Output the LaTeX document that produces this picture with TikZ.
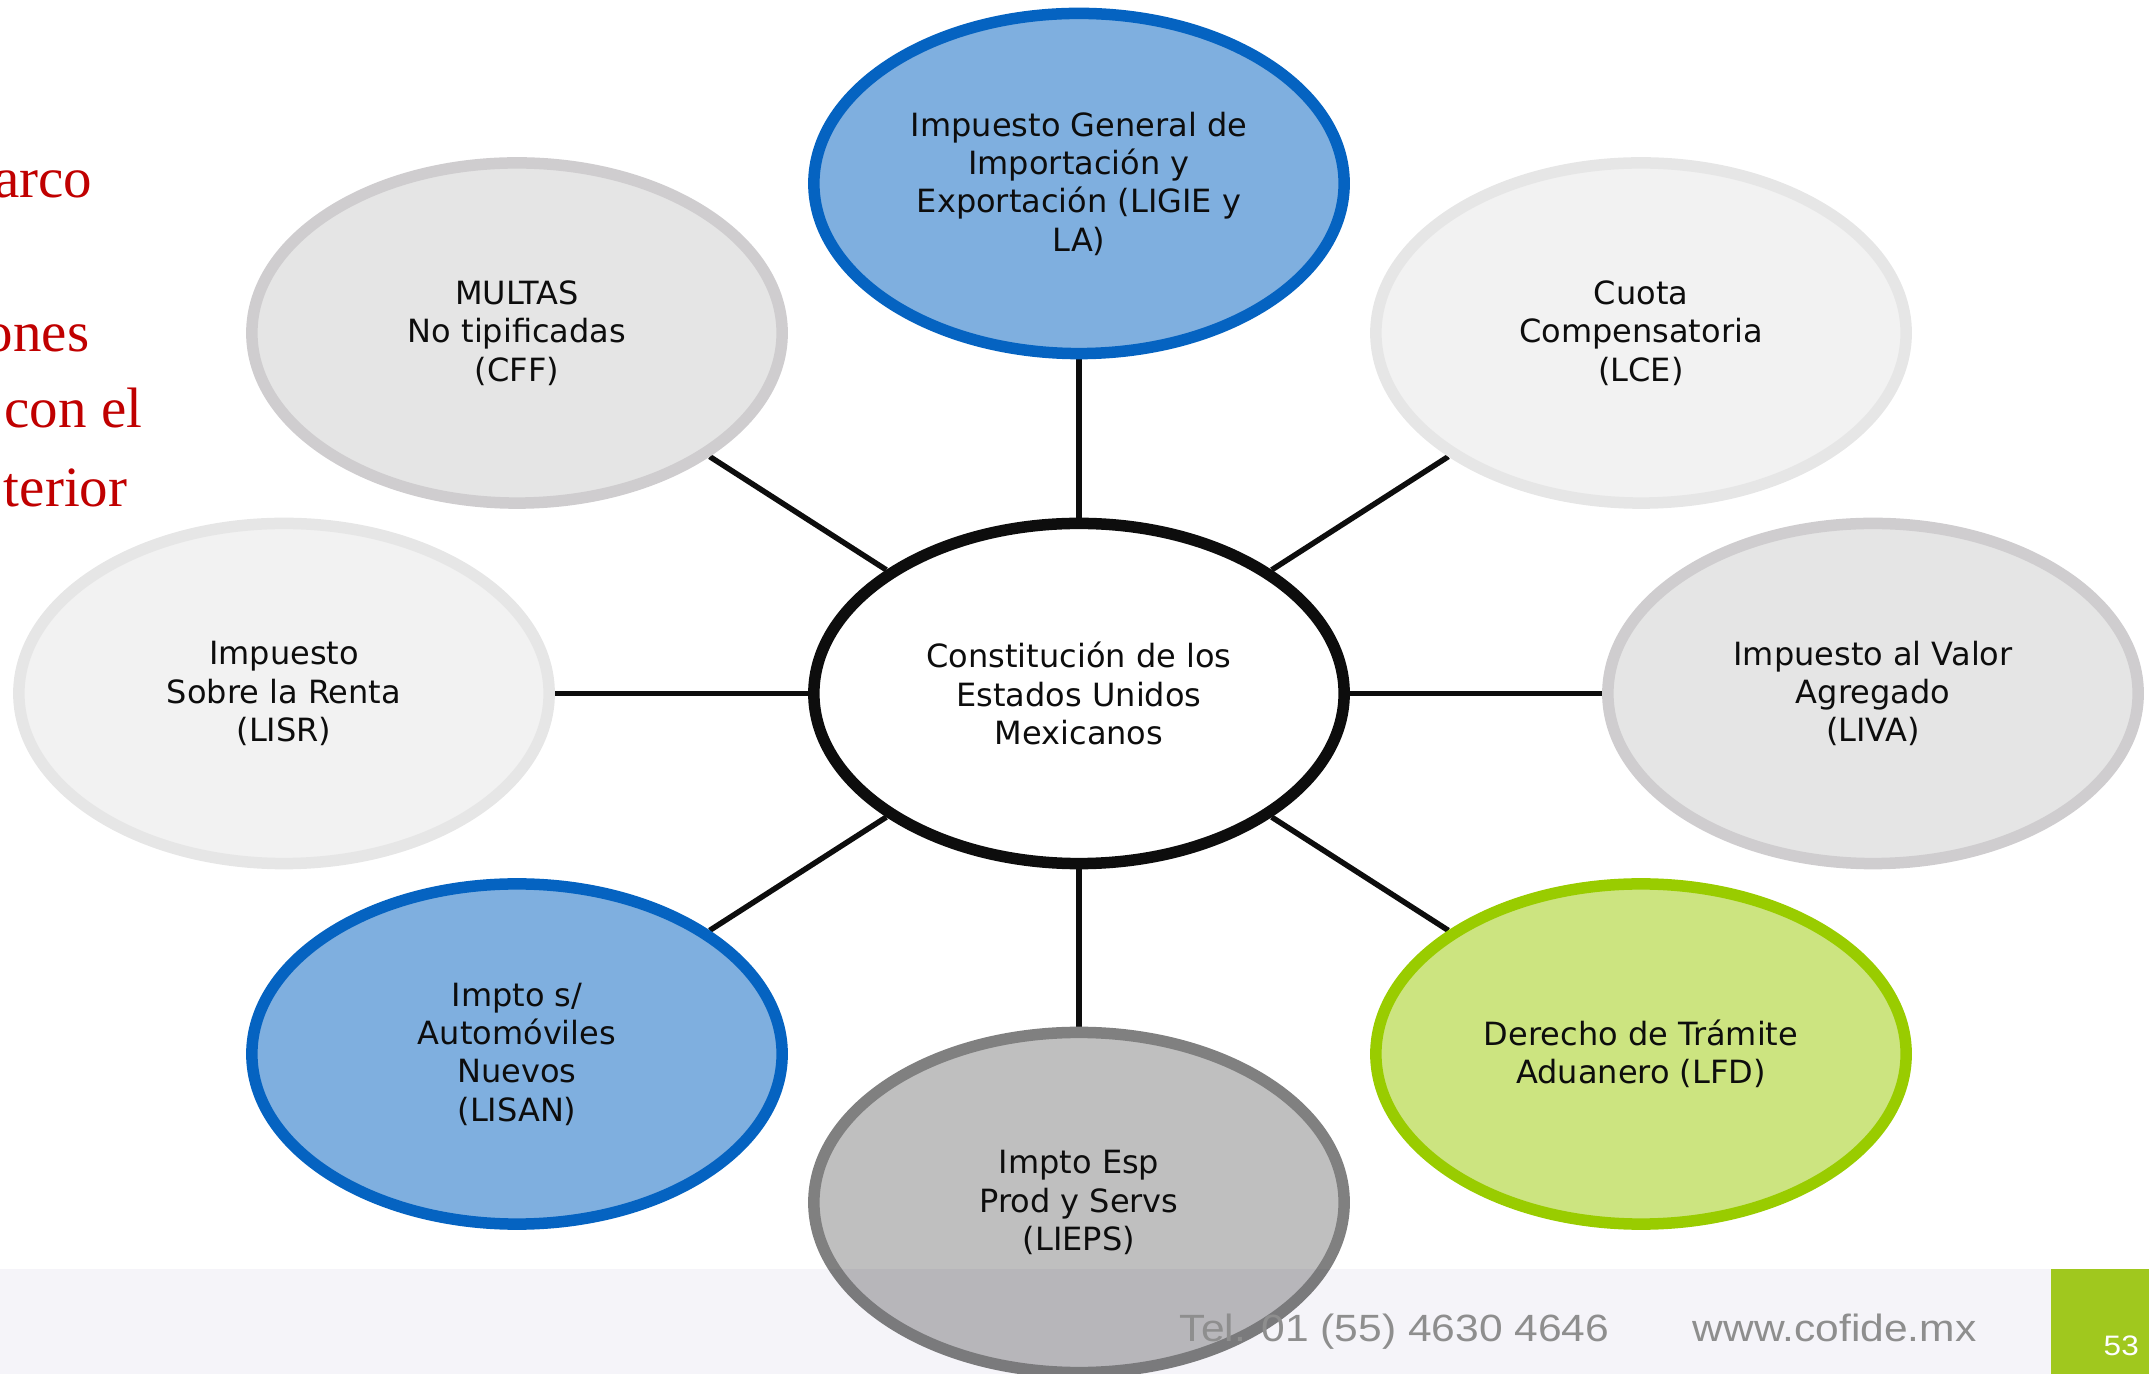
\documentclass[tikz,border=0pt]{standalone}
\usepackage{fontspec}
\setmainfont{DejaVu Sans}
\newfontfamily\titlefont{Liberation Serif}
\newfontfamily\footfont[FakeStretch=1.12]{Liberation Sans}
\usetikzlibrary{shapes.geometric,backgrounds}

\definecolor{txt}{HTML}{0D0D0D}
\definecolor{blueFill}{HTML}{7FAFDF}
\definecolor{blueLine}{HTML}{0563C1}
\definecolor{grayFill}{HTML}{E5E5E5}
\definecolor{grayLine}{HTML}{CFCDCF}
\definecolor{paleFill}{HTML}{F2F2F2}
\definecolor{paleLine}{HTML}{E6E6E6}
\definecolor{darkFill}{HTML}{BFBFBF}
\definecolor{darkLine}{HTML}{808080}
\definecolor{greenFill}{HTML}{CCE480}
\definecolor{greenLine}{HTML}{99CC00}
\definecolor{titleRed}{HTML}{C00000}
\definecolor{footBand}{HTML}{F5F4F9}
\definecolor{footGreen}{HTML}{A0C81E}
\definecolor{footText}{HTML}{8E8E8E}

\begin{document}
\begin{tikzpicture}[x=0.01cm,y=-0.01cm]
  % --- Styles (all bubbles same size) ---
    \tikzset{
      bub/.style      = {ellipse,line width=0.115cm,minimum width=5.3cm,minimum height=3.4cm,
                         inner sep=1pt,align=center,text=txt,font=\fontsize{9.1}{10.9}\selectfont},
      hub/.style      = {bub,draw=txt,fill=white},
      bubBlue/.style  = {bub,draw=blueLine,fill=blueFill},
      bubGray/.style  = {bub,draw=grayLine,fill=grayFill},
      bubPale/.style  = {bub,draw=paleLine,fill=paleFill},
      bubDark/.style  = {bub,draw=darkLine,fill=darkFill},
      bubGreen/.style = {bub,draw=greenLine,fill=greenFill},
      link/.style     = {line width=0.055cm,draw=txt},
      side/.style     = {anchor=base east,inner sep=0pt,text=titleRed,font=\titlefont\fontsize{16.2}{20}\selectfont},
      foot/.style     = {anchor=base west,inner sep=0pt,font=\footfont\fontsize{10.8}{12}\selectfont}
    }
    \useasboundingbox (0,0) rectangle (2149,1374);
    \clip (0,0) rectangle (2149,1374);

    % --- Cut-off title on the left ---
    \node[side] (t1) at (93,198)  {arco};
    \node[side] (t3) at (90,352)  {ones};
    \node[side] (t4) at (143,428) {con el};
    \node[side] (t5) at (128,507) {terior};

    % --- Hub and surrounding bubbles ---
    \node[hub]      (cpeum)  at (1079,693.5) {Constitución de los\\Estados Unidos\\Mexicanos};
    \node[bubBlue]  (ligie)  at (1079,183.5) {Impuesto General de\\Importación y\\Exportación (LIGIE y\\LA)};
    \node[bubGray]  (multas) at (517,333)    {MULTAS\\No tipificadas\\(CFF)};
    \node[bubPale]  (lce)    at (1641,333)   {Cuota\\Compensatoria\\(LCE)};
    \node[bubPale]  (lisr)   at (284,693.5)  {Impuesto\\Sobre la Renta\\(LISR)};
    \node[bubGray]  (liva)   at (1873,693.5) {Impuesto al Valor\\Agregado\\(LIVA)};
    \node[bubBlue]  (lisan)  at (517,1054)   {Impto s/\\Automóviles\\Nuevos\\(LISAN)};
    \node[bubGreen] (lfd)    at (1641,1054)  {Derecho de Trámite\\Aduanero (LFD)};
    \node[bubDark]  (lieps)  at (1079,1202.5){Impto Esp\\Prod y Servs\\(LIEPS)};

    % --- Spokes, behind the bubbles ---
    \begin{pgfonlayer}{background}
      \foreach \b in {ligie,multas,lce,lisr,liva,lisan,lfd,lieps}
        \draw[link] (cpeum) -- (\b);
    \end{pgfonlayer}

    % --- Footer ---
    \fill[footBand,blend mode=multiply] (0,1269) rectangle (2051,1374);
    \fill[footGreen] (2051,1269) rectangle (2149,1374);
    \node[foot,text=footText] (tel) at (1179,1341) {Tel. 01 (55) 4630 4646};
    \node[foot,text=footText] (web) at (1692,1341) {www.cofide.mx};
    \node[foot,text=white,font=\footfont\fontsize{8}{9}\selectfont] (page) at (2103,1355) {53};

\end{tikzpicture}
\end{document}
